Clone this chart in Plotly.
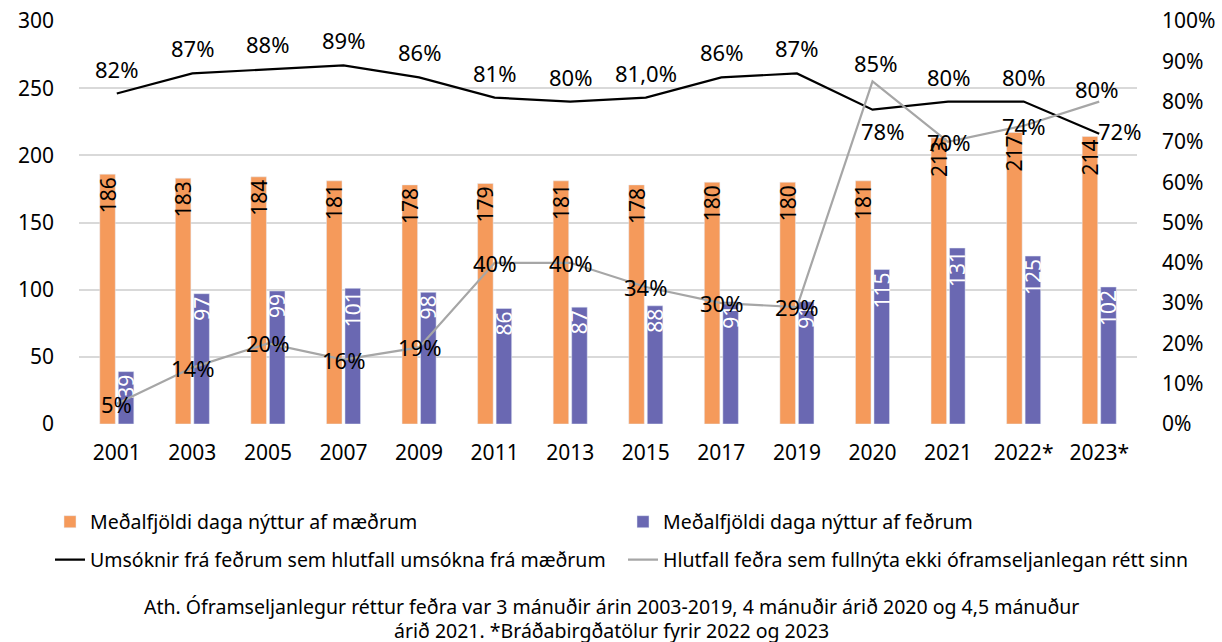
import plotly.graph_objects as go

years = ["2001", "2003", "2005", "2007", "2009", "2011", "2013", "2015", "2017", "2019", "2020", "2021", "2022*", "2023*"]
mothers_days = [186, 183, 184, 181, 178, 179, 181, 178, 180, 180, 181, 213, 217, 214]
fathers_days = [39, 97, 99, 101, 98, 86, 87, 88, 91, 91, 115, 131, 125, 102]
applications_pct = [82, 87, 88, 89, 86, 81, 80, 81, 86, 87, 78, 80, 80, 72]
applications_labels = ["82%", "87%", "88%", "89%", "86%", "81%", "80%", "81,0%", "86%", "87%", "78%", "80%", "80%", "72%"]
not_full_pct = [5, 14, 20, 16, 19, 40, 40, 34, 30, 29, 85, 70, 74, 80]
not_full_labels = [f"{v}%" for v in not_full_pct]
left_ticks = [0, 50, 100, 150, 200, 250, 300]
right_ticks = [0, 0.1, 0.2, 0.3, 0.4, 0.5, 0.6, 0.7, 0.8, 0.9, 1.0]
footnote_lines = [
    "Ath. Óframseljanlegur réttur feðra var 3 mánuðir árin 2003-2019, 4 mánuðir árið 2020 og 4,5 mánuður",
    "árið 2021. *Bráðabirgðatölur fyrir 2022 og 2023",
]

ORANGE = "#F59A5B"
BLUE = "#6A68B2"
FONT = "Noto Sans"

# label offsets (pixels) for the line labels
black_shift = [(0, 25)] * len(years)
black_shift[10] = (10, -21)
black_shift[13] = (20, 3)
gray_shift = [(0, 0)] * len(years)
gray_shift[10] = (3, 18)
gray_shift[13] = (-3, 13)

fig = go.Figure()
fig.add_trace(go.Bar(
    x=years, y=mothers_days, name="Meðalfjöldi daga nýttur af mæðrum",
    marker_color=ORANGE, legend="legend",
    text=[str(v) for v in mothers_days],
    textposition="inside", insidetextanchor="end", textangle=-90, constraintext="none",
    textfont=dict(color="black", size=21, family=FONT),
))
fig.add_trace(go.Bar(
    x=years, y=fathers_days, name="Meðalfjöldi daga nýttur af feðrum",
    marker_color=BLUE, legend="legend2",
    text=[str(v) for v in fathers_days],
    textposition="inside", insidetextanchor="end", textangle=-90, constraintext="none",
    textfont=dict(color="white", size=21, family=FONT),
))
fig.add_trace(go.Scatter(
    x=years, y=[v / 100 for v in applications_pct], yaxis="y2", legend="legend3",
    name="Umsóknir frá feðrum sem hlutfall umsókna frá mæðrum",
    mode="lines", line=dict(color="black", width=2.2),
))
fig.add_trace(go.Scatter(
    x=years, y=[v / 100 for v in not_full_pct], yaxis="y2", legend="legend4",
    name="Hlutfall feðra sem fullnýta ekki óframseljanlegan rétt sinn",
    mode="lines", line=dict(color="#A6A6A6", width=2.2),
))

annotations = []
for i, (v, lab, (dx, dy)) in enumerate(zip(applications_pct, applications_labels, black_shift)):
    annotations.append(dict(x=i, y=v / 100, xref="x", yref="y2", text=lab, showarrow=False,
                            xshift=dx, yshift=dy, font=dict(family=FONT, size=22, color="black")))
for i, (v, lab, (dx, dy)) in enumerate(zip(not_full_pct, not_full_labels, gray_shift)):
    annotations.append(dict(x=i, y=v / 100, xref="x", yref="y2", text=lab, showarrow=False,
                            xshift=dx, yshift=dy, font=dict(family=FONT, size=22, color="black")))
plot_h = 642 - 21 - 218
for line, yc in zip(footnote_lines, [606, 630]):
    annotations.append(dict(
        text=line, xref="paper", yref="paper", x=(611 - 79) / (1222 - 79 - 85),
        y=(642 - 218 - yc) / plot_h, xanchor="center", yanchor="middle",
        showarrow=False, align="center", font=dict(family=FONT, size=19.5, color="black"),
    ))

leg_common = dict(orientation="h", xref="container", yref="container", xanchor="left", yanchor="middle",
                  font=dict(family=FONT, size=19.5, color="black"), itemwidth=30,
                  bgcolor="rgba(0,0,0,0)")
fig.update_layout(
    width=1222, height=642,
    margin=dict(l=79, r=85, t=21, b=218, autoexpand=False),
    paper_bgcolor="white", plot_bgcolor="white",
    barmode="group", bargap=0.51, bargroupgap=0.16,
    font=dict(family=FONT, size=21, color="black"),
    xaxis=dict(type="category", range=[-0.5, len(years) - 0.5], showgrid=False, showline=False, ticks="",
               tickfont=dict(size=21, color="black"), ticklabelstandoff=14, automargin=False),
    yaxis=dict(range=[0, 300], tickvals=left_ticks, showgrid=True,
               gridcolor="#D9D9D9", gridwidth=1.5, zeroline=False, showline=False,
               tickfont=dict(size=21, color="black"), ticklabelstandoff=24, automargin=False),
    yaxis2=dict(range=[0, 1], tickvals=right_ticks, tickformat=".0%",
                overlaying="y", side="right", showgrid=False, zeroline=False,
                tickfont=dict(size=21, color="black"), ticklabelstandoff=24, automargin=False),
    showlegend=True,
    legend=dict(x=50 / 1222, y=1 - 522 / 642, **leg_common),
    legend2=dict(x=623 / 1222, y=1 - 522 / 642, **leg_common),
    legend3=dict(x=50 / 1222, y=1 - 560 / 642, **leg_common),
    legend4=dict(x=623 / 1222, y=1 - 560 / 642, **leg_common),
    annotations=annotations,
)

fig.write_html("out.html", config={"displayModeBar": False},
               post_script="document.body.style.margin='0';document.body.style.overflow='hidden';")
